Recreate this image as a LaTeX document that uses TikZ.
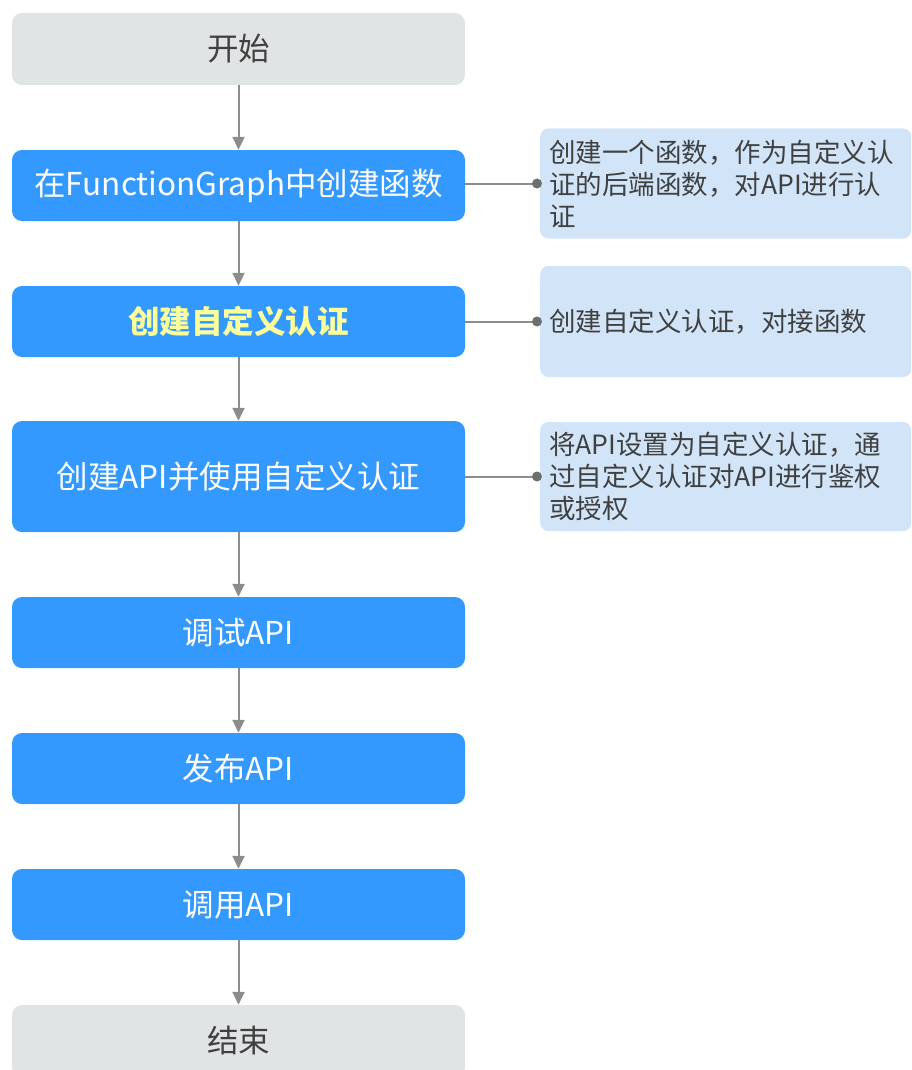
\documentclass[tikz,border=0pt]{standalone}
\usepackage{fontspec}
\setmainfont{Noto Sans CJK SC}
\usetikzlibrary{arrows.meta,positioning}
\definecolor{stepblue}{HTML}{3399FF}
\definecolor{termgray}{HTML}{E1E4E5}
\definecolor{notebg}{HTML}{D2E5F8}
\definecolor{linegray}{HTML}{8C8C8C}
\definecolor{dotgray}{HTML}{6E6E6E}
\definecolor{notetext}{HTML}{404040}
\definecolor{hiyellow}{HTML}{FFFF99}
\begin{document}
\begin{tikzpicture}[x=1pt,y=-1pt,
  base/.style={rounded corners=10pt, minimum width=453pt, inner sep=0pt, align=center, font=\fontsize{31.5}{36}\selectfont},
  termbox/.style={base, fill=termgray, text=notetext, minimum height=72pt},
  stepbox/.style={base, fill=stepblue, text=white, minimum height=71pt},
  notebox/.style={rounded corners=8pt, fill=notebg, text=notetext, text width=353pt, inner xsep=9pt, inner ysep=0pt, align=left, font=\fontsize{26.5}{32}\selectfont, anchor=west},
  flow/.style={draw=linegray, line width=2pt, -{Triangle[width=12pt,length=13pt]}},
  link/.style={draw=linegray, line width=2pt},
  dotmark/.style={circle, fill=dotgray, inner sep=0pt, minimum size=10pt}
]
\useasboundingbox (0,0) rectangle (912,1070);
\begin{scope}
\clip (0,0) rectangle (912,1070);
\node[termbox] (start) at (238.5,49) {开始};
\node[stepbox] (s1) at (238.5,185.5) {在FunctionGraph中创建函数};
\node[stepbox, text=hiyellow, font=\fontsize{31.5}{36}\selectfont\bfseries] (s2) at (238.5,321.5) {创建自定义认证};
\node[stepbox, minimum height=111pt] (s3) at (238.5,476.5) {创建API并使用自定义认证};
\node[stepbox] (s4) at (238.5,632.5) {调试API};
\node[stepbox] (s5) at (238.5,768.5) {发布API};
\node[stepbox] (s6) at (238.5,904.5) {调用API};
\node[termbox, minimum height=72pt] (end) at (238.5,1041) {结束};

\node[notebox, minimum height=110pt] (n1) at (540,183.5) {创建一个函数，作为自定义认\\证的后端函数，对API进行认\\证};
\node[notebox, minimum height=111pt] (n2) at (540,321.5) {创建自定义认证，对接函数};
\node[notebox, minimum height=109pt] (n3) at (540,476.5) {将API设置为自定义认证，通\\过自定义认证对API进行鉴权\\或授权};
\end{scope}

\coordinate (d1) at (537,183.5);
\coordinate (d2) at (537,321.5);
\coordinate (d3) at (537,476.5);

\draw[flow] (start) -- (s1);
\draw[flow] (s1) -- (s2);
\draw[flow] (s2) -- (s3);
\draw[flow] (s3) -- (s4);
\draw[flow] (s4) -- (s5);
\draw[flow] (s5) -- (s6);
\draw[flow] (s6) -- (end);

\draw[link] (s1.east |- d1) -- (d1);
\draw[link] (s2.east |- d2) -- (d2);
\draw[link] (s3.east |- d3) -- (d3);
\node[dotmark] (p1) at (d1) {};
\node[dotmark] (p2) at (d2) {};
\node[dotmark] (p3) at (d3) {};
\end{tikzpicture}
\end{document}
